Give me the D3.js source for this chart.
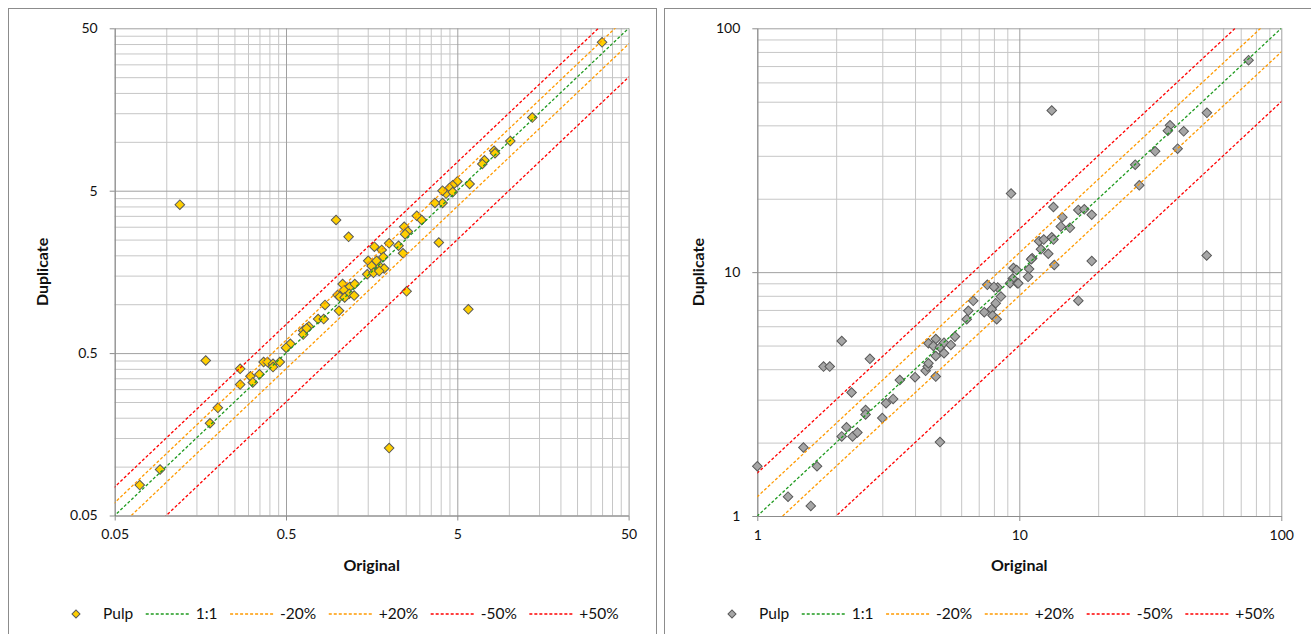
<!DOCTYPE html>
<html>
<head>
<meta charset="utf-8">
<script src="https://cdn.jsdelivr.net/npm/d3@7"></script>
<style>
  body { margin: 0; background: #fff; }
  svg { display: block; font-family: Lato, sans-serif; }
</style>
</head>
<body>
<svg id="board" width="1311" height="634"></svg>
<script>
// left chart: original vs duplicate (log axes 0.05 - 50)
let leftOriginal = [0.12, 0.98, 1.16, 35, 13.7, 10.2, 8.2, 8.3, 7.2, 7.0, 5.9, 5.0, 4.7, 4.5, 4.3, 4.1, 4.1, 3.7, 2.9, 3.1,
    2.45, 2.57, 2.48, 3.9, 2.0, 1.64, 2.27, 1.81, 2.41, 1.51, 1.69, 1.85, 1.77, 1.58, 1.87, 1.49, 1.62, 1.75, 1.07, 1.18,
    1.26, 1.09, 1.0, 1.03, 1.17, 1.25, 1.1, 2.53, 0.845, 1.02, 0.77, 0.83, 0.68, 0.63, 0.63, 0.66, 0.53, 0.5, 0.17, 0.27,
    0.37, 0.39, 0.42, 0.46, 0.42, 0.31, 0.35, 0.32, 0.27, 0.2, 0.18, 0.092, 0.07, 2.0, 5.8, 4.7]
let leftDuplicate = [4.1, 3.3, 2.6, 41, 14.1, 10.1, 8.8, 8.5, 7.7, 7.3, 5.5, 5.7, 5.4, 5.2, 4.8, 5.0, 4.2, 4.2, 3.5, 3.3,
    3.0, 2.8, 2.7, 2.4, 2.37, 2.26, 2.29, 2.16, 2.06, 1.85, 1.85, 1.95, 1.7, 1.72, 1.66, 1.53, 1.56, 1.6, 1.33, 1.28,
    1.33, 1.22, 1.14, 1.11, 1.16, 1.13, 1.1, 1.2, 0.99, 0.91, 0.81, 0.81, 0.73, 0.69, 0.65, 0.71, 0.57, 0.54, 0.45, 0.4,
    0.44, 0.44, 0.43, 0.44, 0.41, 0.36, 0.37, 0.33, 0.32, 0.23, 0.185, 0.096, 0.077, 0.13, 0.93, 4.9]

// right chart: original vs duplicate (log axes 1 - 100)
let rightOriginal = [9.3, 9.5, 11.2, 10.9, 75, 13.3, 52, 37.6, 36.9, 42.4, 33, 40.2, 27.7, 28.7, 13.5, 16.8, 17.7, 18.9,
    14.6, 14.4, 15.6, 13.3, 13.5, 11.9, 12.4, 12.1, 12.9, 11.1, 13.6, 18.9, 51.9, 9.77, 10.8, 9.44, 9.22, 9.83, 8.51, 16.8,
    1.0, 1.5, 1.69, 1.31, 1.6, 1.79, 1.89, 2.1, 2.69, 2.29, 2.19, 2.1, 2.31, 2.41, 2.59, 2.59, 3.0, 3.1, 3.3, 3.5, 4.0,
    4.39, 4.47, 4.5, 4.8, 4.98, 4.5, 4.8, 4.7, 4.98, 5.16, 4.8, 5.16, 5.48, 5.68, 6.3, 6.39, 6.67, 7.35, 7.85, 8.13, 7.91,
    8.2, 7.55, 8.27, 8.0, 9.91]
let rightDuplicate = [21, 10.4, 11.4, 10.3, 74, 46, 45, 40, 38, 37.8, 31.3, 32.1, 27.6, 22.7, 18.5, 18.0, 18.1, 17.2,
    16.8, 15.4, 15.2, 13.9, 13.6, 13.4, 13.6, 12.4, 11.9, 11.3, 10.7, 11.1, 11.7, 10.2, 9.57, 9.41, 9.01, 9.0, 7.94, 7.64,
    1.6, 1.91, 1.6, 1.2, 1.1, 4.1, 4.1, 5.22, 4.41, 3.21, 2.31, 2.12, 2.12, 2.2, 2.72, 2.61, 2.52, 2.9, 3.02, 3.61, 3.71,
    3.94, 4.1, 4.23, 3.73, 2.01, 5.11, 5.32, 4.98, 4.92, 5.14, 4.53, 4.65, 5.03, 5.44, 6.41, 6.94, 7.63, 6.85, 7.05, 7.46, 6.64,
    6.41, 8.87, 8.65, 8.7, 9.0]

let leftTicks = [0.05, 0.5, 5, 50]
let rightTicks = [1, 10, 100]

let legendLabels = ['Pulp', '1:1', '-20%', '+20%', '-50%', '+50%']
let lineFactors = [1, 0.8, 1.2, 0.5, 1.5]
let lineColors = ['#1f9a1f', '#ff9a00', '#ff9a00', '#ff0000', '#ff0000']

let board = d3.select('#board')

let drawChart = (opt) => {
    let x = d3.scaleLog().domain(opt.domain).range([opt.left, opt.right])
    let y = d3.scaleLog().domain(opt.domain).range([opt.bottom, opt.top])
    let w = opt.right - opt.left
    let h = opt.bottom - opt.top

    // chart frame
    board.append('rect')
        .attr('x', opt.frameX + 0.5).attr('y', 8.5)
        .attr('width', opt.frameW).attr('height', 640)
        .attr('fill', 'none').attr('stroke', '#8c8c8c')

    let g = board.append('g')

    // minor gridline values: k * major for k = 2..9
    let minor = []
    opt.ticks.slice(0, -1).forEach((t) => {
        for (let k = 2; k <= 9; k++) minor.push(t * k)
    })

    g.append('g')
        .attr('transform', 'translate(0,' + opt.bottom + ')')
        .call(d3.axisBottom(x).tickValues(minor).tickSize(-h).tickFormat(''))
        .call((a) => a.select('.domain').remove())
        .selectAll('line').attr('stroke', '#c6c6c6')
    g.append('g')
        .attr('transform', 'translate(' + opt.left + ',0)')
        .call(d3.axisLeft(y).tickValues(minor).tickSize(-w).tickFormat(''))
        .call((a) => a.select('.domain').remove())
        .selectAll('line').attr('stroke', '#c6c6c6')

    // major gridlines
    g.append('g')
        .attr('transform', 'translate(0,' + opt.bottom + ')')
        .call(d3.axisBottom(x).tickValues(opt.ticks).tickSize(-h).tickFormat(''))
        .call((a) => a.select('.domain').remove())
        .selectAll('line').attr('stroke', '#a0a0a0')
    g.append('g')
        .attr('transform', 'translate(' + opt.left + ',0)')
        .call(d3.axisLeft(y).tickValues(opt.ticks).tickSize(-w).tickFormat(''))
        .call((a) => a.select('.domain').remove())
        .selectAll('line').attr('stroke', '#a0a0a0')

    // axes with labels
    let xAxis = g.append('g')
        .attr('transform', 'translate(0,' + opt.bottom + ')')
        .call(d3.axisBottom(x).tickValues(opt.ticks).tickSize(5).tickSizeOuter(0).tickPadding(9).tickFormat((d) => String(d)))
    let yAxis = g.append('g')
        .attr('transform', 'translate(' + opt.left + ',0)')
        .call(d3.axisLeft(y).tickValues(opt.ticks).tickSize(5).tickSizeOuter(0).tickPadding(12).tickFormat((d) => String(d)))
    ;[xAxis, yAxis].forEach((a) => {
        a.select('.domain').attr('stroke', '#8c8c8c')
        a.selectAll('line').attr('stroke', '#8c8c8c')
        a.selectAll('text').attr('font-family', 'Lato, sans-serif').attr('font-size', 14).attr('fill', '#111')
    })

    // clip for the reference lines
    let clipId = 'clip-' + opt.name
    board.append('clipPath').attr('id', clipId)
        .append('rect').attr('x', opt.left).attr('y', opt.top).attr('width', w).attr('height', h)

    // points
    let points = opt.original.map((v, i) => [v, opt.duplicate[i]])
    let diamond = d3.symbol(d3.symbolSquare, 46)
    g.append('g').selectAll('path')
        .data(points)
        .enter()
        .append('path')
        .attr('d', diamond)
        .attr('transform', (p) => 'translate(' + x(p[0]) + ',' + y(p[1]) + ') rotate(45)')
        .attr('fill', opt.markerFill)
        .attr('stroke', opt.markerStroke)
        .attr('stroke-width', 1)

    // reference lines y = f * x
    let line = d3.line().x((d) => x(d[0])).y((d) => y(d[1]))
    let lo = opt.domain[0] / 4
    let hi = opt.domain[1] * 4
    g.append('g').attr('clip-path', 'url(#' + clipId + ')')
        .selectAll('path')
        .data(lineFactors)
        .enter()
        .append('path')
        .attr('d', (f) => line([[lo, lo * f], [hi, hi * f]]))
        .attr('fill', 'none')
        .attr('stroke', (f, i) => lineColors[i])
        .attr('stroke-width', 1.3)
        .attr('stroke-dasharray', '3,2')

    // axis titles
    g.append('text')
        .attr('x', (opt.left + opt.right) / 2).attr('y', 571)
        .attr('text-anchor', 'middle')
        .attr('font-size', 16).attr('font-weight', 'bold').attr('fill', '#111')
        .text('Original')
    g.append('text')
        .attr('transform', 'translate(' + (opt.frameX + 40) + ',' + ((opt.top + opt.bottom) / 2) + ') rotate(-90)')
        .attr('text-anchor', 'middle')
        .attr('font-size', 16).attr('font-weight', 'bold').attr('fill', '#111')
        .text('Duplicate')

    // legend
    let legend = g.append('g').attr('transform', 'translate(0,614)')
    let cx = opt.frameX + 68
    legend.append('path')
        .attr('d', d3.symbol(d3.symbolSquare, 32))
        .attr('transform', 'translate(' + cx + ',0) rotate(45)')
        .attr('fill', opt.markerFill).attr('stroke', opt.markerStroke)
    cx += 27
    legendLabels.forEach((label, i) => {
        if (i > 0) {
            legend.append('line')
                .attr('x1', cx).attr('x2', cx + 45)
                .attr('stroke', lineColors[i - 1]).attr('stroke-width', 1.3)
                .attr('stroke-dasharray', '3,2')
            cx += 50
        }
        let t = legend.append('text')
            .attr('x', cx).attr('dy', '0.35em')
            .attr('font-size', 15.5).attr('fill', '#111')
            .text(label)
        cx += t.node().getComputedTextLength() + 12.5
    })
}

drawChart({
    name: 'left', domain: [0.05, 50], ticks: leftTicks,
    left: 114.7, right: 628.6, top: 28.3, bottom: 515.5,
    frameX: 8, frameW: 648,
    original: leftOriginal, duplicate: leftDuplicate,
    markerFill: '#ffcf00', markerStroke: '#5a5a5a'
})

drawChart({
    name: 'right', domain: [1, 100], ticks: rightTicks,
    left: 757.3, right: 1281.3, top: 28.3, bottom: 516,
    frameX: 664, frameW: 660,
    original: rightOriginal, duplicate: rightDuplicate,
    markerFill: '#a6a6a6', markerStroke: '#5a5a5a'
})
</script>
</body>
</html>
